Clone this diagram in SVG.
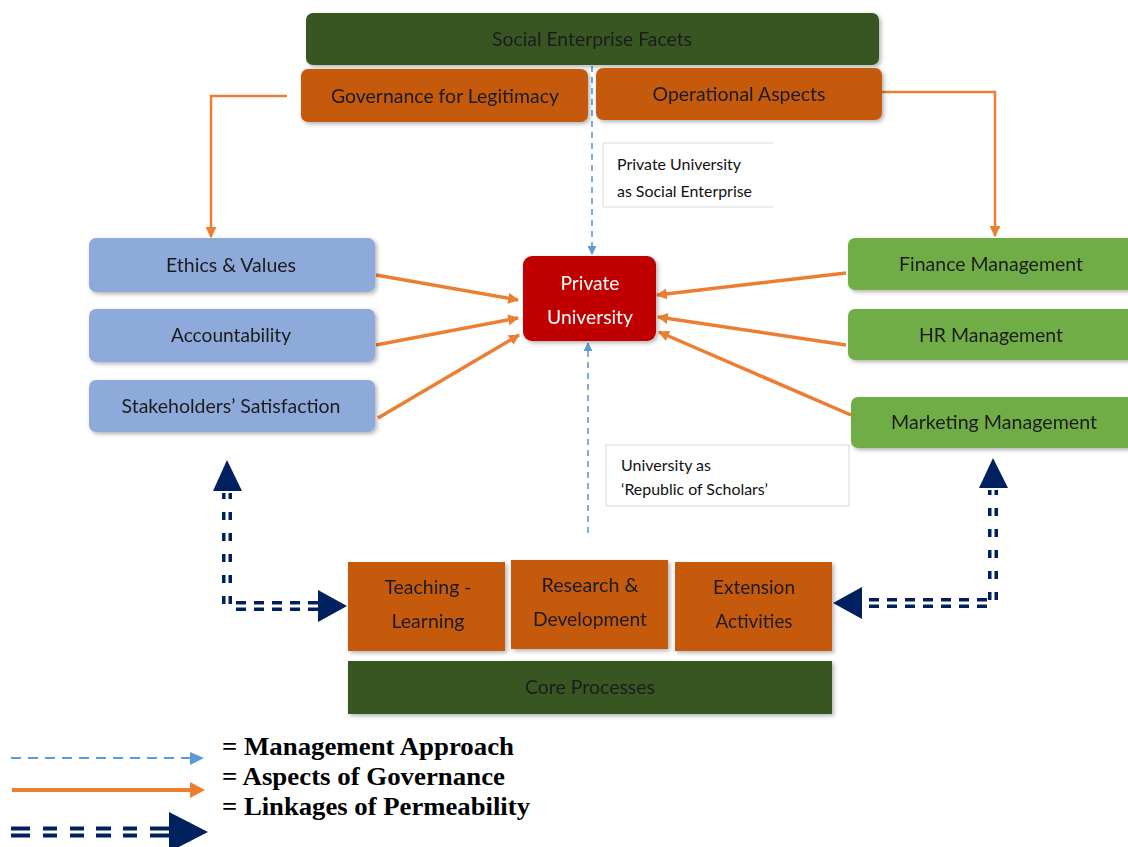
<svg xmlns="http://www.w3.org/2000/svg" width="1128" height="847" viewBox="0 0 1128 847">
<style>
.t{font-family:Lato,"Open Sans","Liberation Sans",sans-serif;font-size:19px;fill:#1c1c1c;text-anchor:middle}
.w{fill:#ffffff}
.s{font-family:Lato,"Open Sans","Liberation Sans",sans-serif;font-size:15px;fill:#111}
.lg{font-family:"Liberation Serif","Times New Roman",serif;font-size:26px;font-weight:bold;fill:#000}
.dg{fill:#385723}
.or{fill:#C55A11}
.lb{fill:#8EAADB}
.gr{fill:#70AD47}
.og{stroke:#ED7D31;fill:none}
.bd{stroke:#5B9BD5;stroke-width:1.6;stroke-dasharray:6 5;fill:none}
.nv{stroke:#002060;fill:none;stroke-width:10}
.nw{stroke:#ffffff;fill:none;stroke-width:3}
</style>
<defs>
<filter id="sh" x="-10%" y="-20%" width="130%" height="150%">
<feDropShadow dx="2" dy="2" stdDeviation="2" flood-color="#000" flood-opacity="0.3"/>
</filter>
<marker id="ao" viewBox="0 0 10 10" refX="9" refY="5" markerWidth="11" markerHeight="11" markerUnits="userSpaceOnUse" orient="auto">
<path d="M0,0 L10,5 L0,10 Z" fill="#ED7D31"/>
</marker>
<marker id="ab" viewBox="0 0 10 10" refX="9" refY="5" markerWidth="9" markerHeight="9" markerUnits="userSpaceOnUse" orient="auto">
<path d="M0,0 L10,5 L0,10 Z" fill="#5B9BD5"/>
</marker>
</defs>
<rect width="1128" height="847" fill="#ffffff"/>

<g id="connectors">
<path class="bd" d="M592,66 L592,254" marker-end="url(#ab)"/>
<path class="bd" d="M588,533 L588,343" marker-end="url(#ab)"/>
<path class="og" stroke-width="2.5" d="M287,96 L211,96 L211,237" marker-end="url(#ao)"/>
<path class="og" stroke-width="2.5" d="M882,92 L995,92 L995,236" marker-end="url(#ao)"/>
<path class="og" stroke-width="3.5" d="M376,275 L518,300" marker-end="url(#ao)"/>
<path class="og" stroke-width="3.5" d="M376,345 L518,318" marker-end="url(#ao)"/>
<path class="og" stroke-width="3.5" d="M378,418 L519,335" marker-end="url(#ao)"/>
<path class="og" stroke-width="3.5" d="M846,273 L657,295" marker-end="url(#ao)"/>
<path class="og" stroke-width="3.5" d="M846,345 L658,317" marker-end="url(#ao)"/>
<path class="og" stroke-width="3.5" d="M851,415 L659,332" marker-end="url(#ao)"/>
<path class="nv" stroke-dasharray="8 13" d="M227,604 L227,493"/>
<path class="nw" d="M227,606 L227,488"/>
<path class="nv" stroke-dasharray="10 8" d="M236,606 L318,606"/>
<path class="nw" d="M230,606 L320,606"/>
<polygon points="213,491 242,491 227,460" fill="#002060"/>
<polygon points="318,590 318,622 347,606" fill="#002060"/>
<path class="nv" stroke-dasharray="8 13" d="M993,600 L993,490"/>
<path class="nw" d="M993,604 L993,486"/>
<path class="nv" stroke-dasharray="10 8" d="M987,603 L862,603"/>
<path class="nw" d="M992,603 L860,603"/>
<polygon points="862,587 862,619 833,603" fill="#002060"/>
<polygon points="979,488 1008,488 993,458" fill="#002060"/>
</g>

<g id="social-enterprise-facets" filter="url(#sh)">
<rect class="dg" x="306" y="13" width="573" height="52" rx="7"/>
<text class="t" x="592" y="46" textLength="200" lengthAdjust="spacingAndGlyphs">Social Enterprise Facets</text>
</g>
<g id="governance" filter="url(#sh)">
<rect class="or" x="301" y="69" width="287" height="53" rx="7"/>
<text class="t" x="445" y="103" textLength="228" lengthAdjust="spacingAndGlyphs">Governance for Legitimacy</text>
</g>
<g id="operational" filter="url(#sh)">
<rect class="or" x="596" y="68" width="286" height="52" rx="7"/>
<text class="t" x="739" y="101" textLength="173" lengthAdjust="spacingAndGlyphs">Operational Aspects</text>
</g>

<g id="label-social">
<path d="M773,143 L603,143 L603,207 L773,207" fill="#ffffff" stroke="#d9d9d9" stroke-width="1"/>
<text class="s" x="617" y="170" textLength="124" lengthAdjust="spacingAndGlyphs">Private University</text>
<text class="s" x="617" y="197" textLength="135" lengthAdjust="spacingAndGlyphs">as Social Enterprise</text>
</g>

<g id="ethics" filter="url(#sh)">
<rect class="lb" x="89" y="238" width="286" height="54" rx="7"/>
<text class="t" x="231" y="272" textLength="130" lengthAdjust="spacingAndGlyphs">Ethics &amp; Values</text>
</g>
<g id="accountability" filter="url(#sh)">
<rect class="lb" x="89" y="309" width="286" height="53" rx="7"/>
<text class="t" x="231" y="342" textLength="120" lengthAdjust="spacingAndGlyphs">Accountability</text>
</g>
<g id="stakeholders" filter="url(#sh)">
<rect class="lb" x="89" y="380" width="286" height="52" rx="7"/>
<text class="t" x="231" y="413" textLength="219" lengthAdjust="spacingAndGlyphs">Stakeholders’ Satisfaction</text>
</g>

<g id="private-university" filter="url(#sh)">
<rect x="523" y="256" width="133" height="85" rx="9" fill="#C00000"/>
<text class="t w" x="590" y="290" textLength="59" lengthAdjust="spacingAndGlyphs">Private</text>
<text class="t w" x="590" y="324" textLength="86" lengthAdjust="spacingAndGlyphs">University</text>
</g>

<g id="finance" filter="url(#sh)">
<rect class="gr" x="848" y="238" width="290" height="52" rx="7"/>
<text class="t" x="991" y="271" textLength="184" lengthAdjust="spacingAndGlyphs">Finance Management</text>
</g>
<g id="hr" filter="url(#sh)">
<rect class="gr" x="848" y="309" width="290" height="51" rx="7"/>
<text class="t" x="991" y="342" textLength="144" lengthAdjust="spacingAndGlyphs">HR Management</text>
</g>
<g id="marketing" filter="url(#sh)">
<rect class="gr" x="851" y="397" width="290" height="51" rx="7"/>
<text class="t" x="994" y="429" textLength="206" lengthAdjust="spacingAndGlyphs">Marketing Management</text>
</g>

<g id="label-republic">
<rect x="606" y="445" width="243" height="61" fill="#ffffff" stroke="#d9d9d9" stroke-width="1"/>
<text class="s" x="621" y="471" textLength="90" lengthAdjust="spacingAndGlyphs">University as</text>
<text class="s" x="621" y="495" textLength="147" lengthAdjust="spacingAndGlyphs">‘Republic of Scholars’</text>
</g>

<g id="teaching" filter="url(#sh)">
<rect class="or" x="348" y="562" width="157" height="89"/>
<text class="t" x="428" y="594" textLength="87" lengthAdjust="spacingAndGlyphs">Teaching -</text>
<text class="t" x="428" y="628" textLength="73" lengthAdjust="spacingAndGlyphs">Learning</text>
</g>
<g id="research" filter="url(#sh)">
<rect class="or" x="511" y="560" width="157" height="89"/>
<text class="t" x="590" y="592" textLength="97" lengthAdjust="spacingAndGlyphs">Research &amp;</text>
<text class="t" x="590" y="626" textLength="114" lengthAdjust="spacingAndGlyphs">Development</text>
</g>
<g id="extension" filter="url(#sh)">
<rect class="or" x="675" y="562" width="157" height="89"/>
<text class="t" x="754" y="594" textLength="82" lengthAdjust="spacingAndGlyphs">Extension</text>
<text class="t" x="754" y="628" textLength="77" lengthAdjust="spacingAndGlyphs">Activities</text>
</g>
<g id="core-processes" filter="url(#sh)">
<rect class="dg" x="348" y="661" width="484" height="53"/>
<text class="t" x="590" y="694" textLength="130" lengthAdjust="spacingAndGlyphs">Core Processes</text>
</g>

<g id="legend">
<path d="M11,758 L192,758" stroke="#5B9BD5" stroke-width="2" stroke-dasharray="10 7" fill="none"/>
<polygon points="190,752 204,758 190,765" fill="#5B9BD5"/>
<path d="M12,790 L192,790" stroke="#ED7D31" stroke-width="4" fill="none"/>
<polygon points="190,782 205,790 190,798" fill="#ED7D31"/>
<path d="M11,832 H30 M43,832 H57 M70,832 H84 M96,832 H111 M123,832 H137 M150,832 H170" stroke="#002060" stroke-width="11" fill="none"/>
<path class="nw" d="M9,832 L170,832"/>
<polygon points="169,812 169,852 208,832" fill="#002060"/>
<text class="lg" x="222" y="755" textLength="292" lengthAdjust="spacingAndGlyphs">= Management Approach</text>
<text class="lg" x="222" y="785" textLength="283" lengthAdjust="spacingAndGlyphs">= Aspects of Governance</text>
<text class="lg" x="222" y="815" textLength="308" lengthAdjust="spacingAndGlyphs">= Linkages of Permeability</text>
</g>
</svg>
